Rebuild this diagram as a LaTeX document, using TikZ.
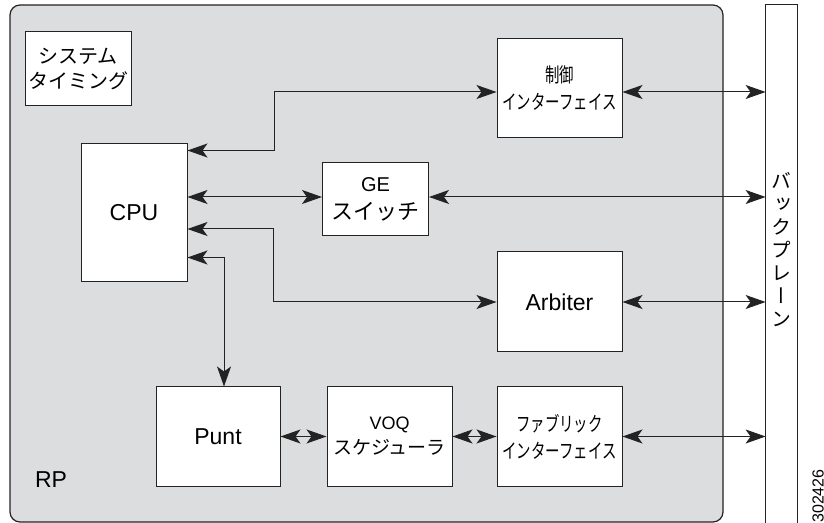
\documentclass[tikz,border=0pt]{standalone}
\usepackage{fontspec}
\setmainfont{Liberation Sans}
\newfontfamily\jp{Noto Sans CJK JP}
\newfontfamily\jpnarrow[FakeStretch=0.72]{Noto Sans CJK JP}
\newfontfamily\jpvert[RawFeature=+vert]{Noto Sans CJK JP}
\usetikzlibrary{arrows.meta,calc}
\definecolor{rpgray}{RGB}{220,221,223}
\definecolor{linegray}{RGB}{35,35,35}
\tikzset{
  panel/.style={
    draw=linegray,
    fill=rpgray,
    line width=0.6pt,
    rounded corners=5pt,
    inner sep=0pt,
    minimum width=356.5pt,
    minimum height=258.5pt
  },
  unit/.style={
    draw=linegray,
    fill=white,
    line width=0.5pt,
    inner sep=0pt,
    align=center,
    font=\fontsize{11.5}{14}\selectfont
  },
  bus/.style={
    draw=linegray,
    line width=0.5pt,
    {Stealth[length=10pt,width=7pt,inset=2.5pt]}-{Stealth[length=10pt,width=7pt,inset=2.5pt]}
  }
}

\begin{document}
\begin{tikzpicture}[x=0.5pt,y=-0.5pt]
  \useasboundingbox (0,0) rectangle (824,523);
  \node[panel] (rp) at (366.5,263.5) {};
  \node[fill=white, inner sep=0pt, minimum width=15.5pt, minimum height=259pt] (bp) at (781.5,264) {};
  \draw[linegray, line width=0.5pt] (bp.south west) -- (bp.north west) -- (bp.north east) -- (bp.south east);

  \node[unit, minimum width=53pt, minimum height=37pt, font=\jp\fontsize{10}{12.5}\selectfont] (timing) at (78,69) {システム\\タイミング};
  \node[unit, minimum width=53pt, minimum height=69pt] (cpu) at (134,213) {CPU};
  \node[unit, minimum width=62.5pt, minimum height=49.5pt, font=\jpnarrow\fontsize{10}{13.5}\selectfont] (ctrl) at (559.5,88.5) {制御\\インターフェイス};
  \node[unit, minimum width=53pt, minimum height=36.5pt, font=\fontsize{10}{14}\selectfont] (ge) at (375.5,199.5) {GE\\{\jp\fontsize{11}{14}\selectfont スイッチ}};
  \node[unit, minimum width=62.5pt, minimum height=50pt] (arb) at (559.5,302) {Arbiter};
  \node[unit, minimum width=62pt, minimum height=49.5pt] (punt) at (218,436.5) {Punt};
  \node[unit, minimum width=62.5pt, minimum height=49.5pt, font=\fontsize{9}{12.5}\selectfont] (voq) at (389.5,436.5) {VOQ\\{\jp\fontsize{9.5}{12.5}\selectfont スケジューラ}};
  \node[unit, minimum width=62.5pt, minimum height=49.5pt, font=\jpnarrow\fontsize{10}{13.5}\selectfont] (fab) at (559.5,436.5) {ファブリック\\インターフェイス};

  \node[font=\fontsize{11.5}{14}\selectfont] (rplabel) at (51,479.5) {RP};
  \node[align=center, font=\jpvert\fontsize{10}{11.5}\selectfont] (bplabel) at (781.5,250) {バ\\ッ\\ク\\プ\\レ\\ー\\ン};
  \node[rotate=90, font=\fontsize{8}{10}\selectfont] (fignum) at (818,496) {302426};

  % CPU links
  \draw[bus] ([yshift=-3.5pt]cpu.north east) -| ([xshift=-111pt,yshift=-1.75pt]ctrl.west) -- ([yshift=-1.75pt]ctrl.west);
  \draw[bus] ([yshift=1.25pt]ge.west -| cpu.east) -- ([yshift=1.25pt]ge.west);
  \draw[bus] ([yshift=-8pt]cpu.east) -| ([xshift=-111.5pt]arb.west) -- (arb.west);
  \draw[bus] ([yshift=12.5pt]cpu.south east) -| ([xshift=3pt]punt.north);
  \draw[bus] (punt.east) -- (voq.west);
  \draw[bus] (voq.east) -- (fab.west);

  % backplane links
  \draw[bus] ([yshift=-1.75pt]ctrl.east) -- ([yshift=-1.75pt]ctrl.east -| bp.west);
  \draw[bus] ([yshift=1.25pt]ge.east) -- ([yshift=1.25pt]ge.east -| bp.west);
  \draw[bus] (arb.east) -- (arb.east -| bp.west);
  \draw[bus] (fab.east) -- (fab.east -| bp.west);
\end{tikzpicture}
\end{document}
